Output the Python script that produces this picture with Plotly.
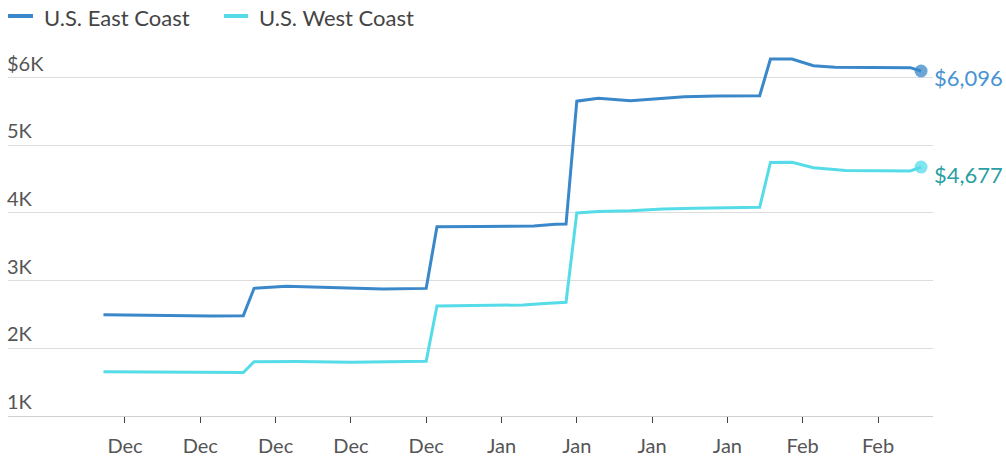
import plotly.graph_objects as go

# ---- data ----
east_dates = ["2020-11-29", "2020-12-02", "2020-12-05", "2020-12-09", "2020-12-12", "2020-12-13",
              "2020-12-16", "2020-12-20", "2020-12-25", "2020-12-29", "2020-12-30", "2021-01-03",
              "2021-01-08", "2021-01-10", "2021-01-11", "2021-01-12", "2021-01-14", "2021-01-17",
              "2021-01-20", "2021-01-22", "2021-01-25", "2021-01-29", "2021-01-30", "2021-02-01",
              "2021-02-03", "2021-02-05", "2021-02-12", "2021-02-13"]
east_values = [2495, 2490, 2478, 2478, 2482, 2886,
               2915, 2900, 2875, 2885, 3796, 3800,
               3806, 3832, 3835, 5650, 5693, 5657,
               5693, 5716, 5728, 5730, 6273, 6273,
               6175, 6150, 6145, 6096]

west_dates = ["2020-11-29", "2020-12-02", "2020-12-05", "2020-12-09", "2020-12-12", "2020-12-13",
              "2020-12-17", "2020-12-22", "2020-12-26", "2020-12-29", "2020-12-30", "2021-01-03",
              "2021-01-07", "2021-01-09", "2021-01-11", "2021-01-12", "2021-01-14", "2021-01-17",
              "2021-01-20", "2021-01-23", "2021-01-29", "2021-01-30", "2021-02-01", "2021-02-03",
              "2021-02-06", "2021-02-12", "2021-02-13"]
west_values = [1652, 1650, 1640, 1638, 1642, 1802,
               1805, 1795, 1798, 1810, 2625, 2630,
               2640, 2660, 2680, 4000, 4020, 4030,
               4057, 4070, 4083, 4745, 4748, 4667,
               4625, 4620, 4677]

series_names = ["U.S. East Coast", "U.S. West Coast"]
end_labels = ["$6,096", "$4,677"]

x_tickvals = ["2020-12-01", "2020-12-08", "2020-12-15", "2020-12-22", "2020-12-29", "2021-01-05",
              "2021-01-12", "2021-01-19", "2021-01-26", "2021-02-02", "2021-02-09"]
x_ticktext = ["Dec", "Dec", "Dec", "Dec", "Dec", "Jan", "Jan", "Jan", "Jan", "Feb", "Feb"]
y_tickvals = [1000, 2000, 3000, 4000, 5000, 6000]
y_ticktext = ["1K", "2K", "3K", "4K", "5K", "$6K"]

# ---- style ----
EAST = "#3a88c9"
WEST = "#56dce8"
EAST_LBL = "#4793d3"
WEST_LBL = "#2a9fa3"
FONT = "Lato"
W, H = 1006, 462
ML, MR, MT, MB = 8, 73, 45, 46
PW, PH = W - ML - MR, H - MT - MB


def px_x(px):
    return (px - ML) / PW


def px_y(py):
    return (H - MB - py) / PH


fig = go.Figure()
fig.add_trace(go.Scatter(x=east_dates, y=east_values, mode="lines", name=series_names[0],
                         line=dict(color=EAST, width=3), showlegend=False))
fig.add_trace(go.Scatter(x=west_dates, y=west_values, mode="lines", name=series_names[1],
                         line=dict(color=WEST, width=3), showlegend=False))

# end markers
fig.add_trace(go.Scatter(x=[east_dates[-1]], y=[east_values[-1]], mode="markers", showlegend=False,
                         marker=dict(size=13, color=EAST, opacity=0.75)))
fig.add_trace(go.Scatter(x=[west_dates[-1]], y=[west_values[-1]], mode="markers", showlegend=False,
                         marker=dict(size=13, color=WEST, opacity=0.75)))

fig.add_annotation(x=east_dates[-1], y=east_values[-1], text=end_labels[0], showarrow=False,
                   xanchor="left", yanchor="middle", xshift=11, yshift=-6,
                   font=dict(family=FONT, size=22, color=EAST_LBL))
fig.add_annotation(x=west_dates[-1], y=west_values[-1], text=end_labels[1], showarrow=False,
                   xanchor="left", yanchor="middle", xshift=11, yshift=-7,
                   font=dict(family=FONT, size=22, color=WEST_LBL))

# legend (manual)
legend_items = [(series_names[0], EAST, 8, 33, 43), (series_names[1], WEST, 224, 248, 258)]
for name, col, x0, x1, xt in legend_items:
    fig.add_shape(type="line", xref="paper", yref="paper",
                  x0=px_x(x0), x1=px_x(x1), y0=px_y(16), y1=px_y(16),
                  line=dict(color=col, width=4))
    fig.add_annotation(xref="paper", yref="paper", x=px_x(xt - 1), y=px_y(17), text=name,
                       showarrow=False, xanchor="left", yanchor="middle",
                       font=dict(family=FONT, size=22, color="#444"))

fig.update_layout(
    width=W, height=H,
    margin=dict(l=ML, r=MR, t=MT, b=MB),
    paper_bgcolor="white", plot_bgcolor="white",
    font=dict(family=FONT, size=20, color="#555"),
    showlegend=False,
    hovermode=False,
)
fig.update_xaxes(
    type="date",
    range=["2020-11-20 03:00", "2021-02-14 02:40"],
    tickvals=x_tickvals, ticktext=x_ticktext,
    showgrid=False, showline=True, linecolor="#cfcfcf", linewidth=1,
    ticks="outside", ticklen=6, tickcolor="#444", tickwidth=1,
    tickfont=dict(family=FONT, size=20, color="#555"),
    ticklabelstandoff=6,
    zeroline=False, automargin=False,
)
fig.update_yaxes(
    range=[1000, 6480],
    tickvals=y_tickvals, ticktext=y_ticktext,
    showgrid=True, gridcolor="#dddddd", gridwidth=1,
    ticklabelposition="inside top", ticklabelstandoff=-4,
    tickfont=dict(family=FONT, size=20, color="#555"),
    zeroline=False, showline=False, ticks="", automargin=False,
)

fig.write_html("out.html")
